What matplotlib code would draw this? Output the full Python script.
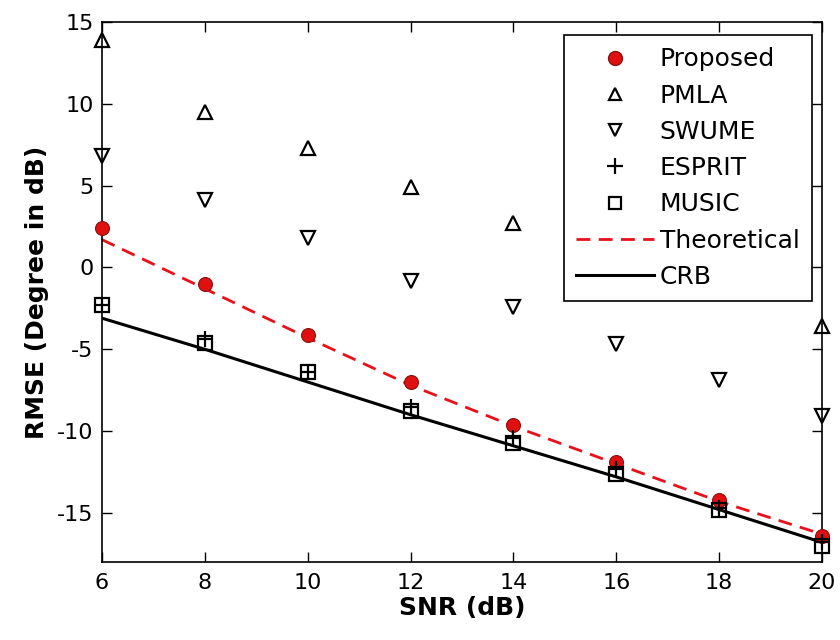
import matplotlib
matplotlib.use("Agg")
import matplotlib.pyplot as plt
from matplotlib.lines import Line2D

plt.rcParams['font.family'] = ['DejaVu Sans']
plt.rcParams['axes.unicode_minus'] = False

snr = [6, 8, 10, 12, 14, 16, 18, 20]
proposed = [2.4, -1.0, -4.1, -7.0, -9.6, -11.9, -14.2, -16.4]
pmla = [13.9, 9.5, 7.3, 4.9, 2.7, 0.6, -1.5, -3.6]
swume = [6.8, 4.1, 1.8, -0.8, -2.4, -4.7, -6.9, -9.1]
esprit = [-2.3, -4.4, -6.4, -8.5, -10.4, -12.3, -14.7, -16.8]
music = [-2.3, -4.6, -6.4, -8.8, -10.7, -12.6, -14.8, -17.0]
theoretical = [1.7, -1.3, -4.3, -7.2, -9.7, -12.0, -14.3, -16.3]
crb = [-3.1, -5.0, -7.0, -9.0, -10.9, -12.8, -14.8, -16.8]

fig = plt.figure(figsize=(8.4, 6.4), dpi=100)
ax = fig.add_axes([0.1214, 0.1219, 0.8572, 0.8437])

ax.plot(snr, theoretical, '--', color='#e8101a', lw=2, dashes=(5, 3), zorder=2)
ax.plot(snr, crb, '-', color='black', lw=2.2, zorder=2)
kw = dict(ls='none', zorder=3, clip_on=False)
ax.plot(snr, proposed, 'o', ms=10, mfc='#e01010', mec='#8a1010', mew=0.8, **kw)
ax.plot(snr, pmla, '^', ms=10, mfc='none', mec='black', mew=1.6, **kw)
ax.plot(snr, swume, 'v', ms=10, mfc='none', mec='black', mew=1.6, **kw)
ax.plot(snr, esprit, '+', ms=12, mec='black', mew=1.6, **kw)
ax.plot(snr, music, 's', ms=10, mfc='none', mec='black', mew=1.6, **kw)

ax.set_xlim(6, 20)
ax.set_ylim(-18, 15)
ax.set_xticks(snr)
ax.set_yticks([-15, -10, -5, 0, 5, 10, 15])
ax.tick_params(direction='in', top=True, right=True, length=7, width=1, labelsize=16)
ax.tick_params(axis='x', pad=8)
ax.tick_params(axis='y', pad=6)
for s in ax.spines.values():
    s.set_linewidth(1.2)

ax.set_xlabel('SNR (dB)', fontsize=18, fontweight='bold', labelpad=2)
ax.set_ylabel('RMSE (Degree in dB)', fontsize=18, fontweight='bold', labelpad=6)

handles = [
    Line2D([], [], marker='o', ms=10, mfc='#e01010', mec='#8a1010', ls='none'),
    Line2D([], [], marker='^', ms=9, mfc='none', mec='black', mew=1.6, ls='none'),
    Line2D([], [], marker='v', ms=9, mfc='none', mec='black', mew=1.6, ls='none'),
    Line2D([], [], marker='+', ms=11, mec='black', mew=1.6, ls='none'),
    Line2D([], [], marker='s', ms=9, mfc='none', mec='black', mew=1.6, ls='none'),
    Line2D([], [], ls='--', color='#e8101a', lw=2, dashes=(5, 3)),
    Line2D([], [], ls='-', color='black', lw=2.2),
]
labels = ['Proposed', 'PMLA', 'SWUME', 'ESPRIT', 'MUSIC', 'Theoretical', 'CRB']
leg = ax.legend(handles, labels, loc='upper right', bbox_to_anchor=(0.986, 0.976),
                fontsize=18, frameon=True, fancybox=False, edgecolor='black',
                framealpha=1, borderpad=0.5, labelspacing=0.49, handlelength=3.1,
                handletextpad=0.24, borderaxespad=0)
leg.get_frame().set_linewidth(1.2)
leg.set_zorder(10)

fig.savefig('out.png', dpi=100)
